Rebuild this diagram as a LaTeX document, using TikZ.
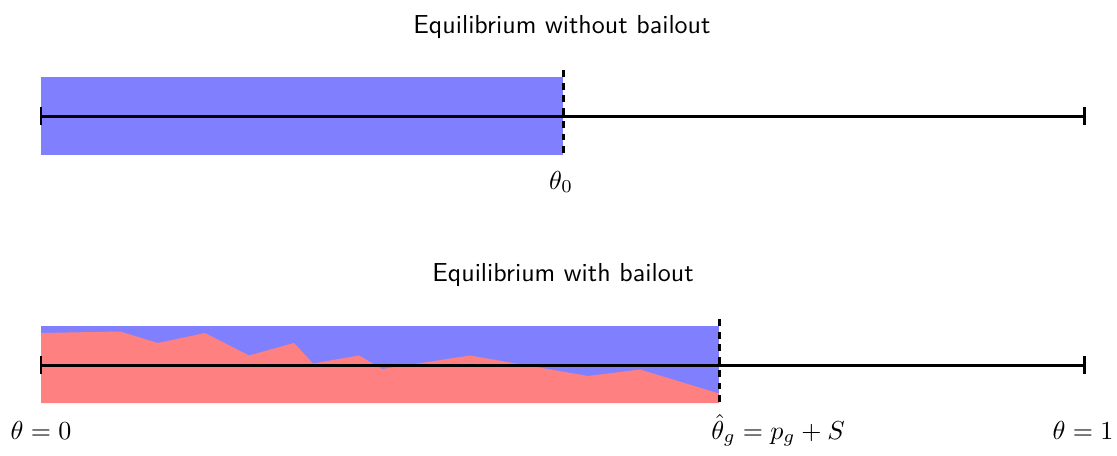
\documentclass[tikz,border=0pt]{standalone}
\begin{document}
\begin{tikzpicture}[x=0.3846pt,y=-0.3846pt,
  axisline/.style={line width=1.15pt,black},
  tickmark/.style={line width=1.15pt,black},
  cutline/.style={line width=1.15pt,black,dash pattern=on 2.6pt off 2.3pt},
  bluefill/.style={fill=blue!50,draw=none},
  redfill/.style={fill=red!50,draw=none},
  titletext/.style={font=\sffamily,anchor=base,inner sep=0pt},
  mathlabel/.style={anchor=base,inner sep=0pt}]
\useasboundingbox (0,0) rectangle (1117,455);

% ---------- top panel ----------
\node[titletext] (t1) at (562,33) {Equilibrium without bailout};
\fill[bluefill] (41,77) rectangle (563,155);
\coordinate (a0) at (41,116);
\coordinate (a1) at (1084,116);
\coordinate (c0top) at (563,70);
\coordinate (c0bot) at (563,158);
\draw[axisline] (a0) -- (a1);
\draw[tickmark] ([yshift=-3.5pt]a0) -- ([yshift=3.5pt]a0);
\draw[tickmark] ([yshift=-3.5pt]a1) -- ([yshift=3.5pt]a1);
\draw[cutline] (c0top) -- (c0bot);
\node[mathlabel] (th0) at (561,189) {$\theta_0$};

% ---------- bottom panel ----------
\node[titletext] (t2) at (563,281.5) {Equilibrium with bailout};
\fill[bluefill] (41,326) rectangle (719,403);
\fill[redfill] (41,403) -- (41,333) -- (120,331.5) -- (158,343) -- (205,333)
  -- (249,355.5) -- (294,343) -- (313,363.5) -- (359,355.5) -- (382,369)
  -- (470,355.5) -- (588,376) -- (640,369.5) -- (719,393.5) -- (719,403) -- cycle;
\coordinate (b0) at (41,365);
\coordinate (b1) at (1084,365);
\coordinate (cgtop) at (719,319);
\coordinate (cgbot) at (719,407);
\draw[axisline] (b0) -- (b1);
\draw[tickmark] ([yshift=-3.5pt]b0) -- ([yshift=3.5pt]b0);
\draw[tickmark] ([yshift=-3.5pt]b1) -- ([yshift=3.5pt]b1);
\draw[cutline] (cgtop) -- (cgbot);
\node[mathlabel] (lz) at (41,439) {$\theta=0$};
\node[mathlabel] (lg) at (778,439) {$\hat{\theta}_g=p_g+S$};
\node[mathlabel] (lo) at (1083,439) {$\theta=1$};
\end{tikzpicture}
\end{document}
